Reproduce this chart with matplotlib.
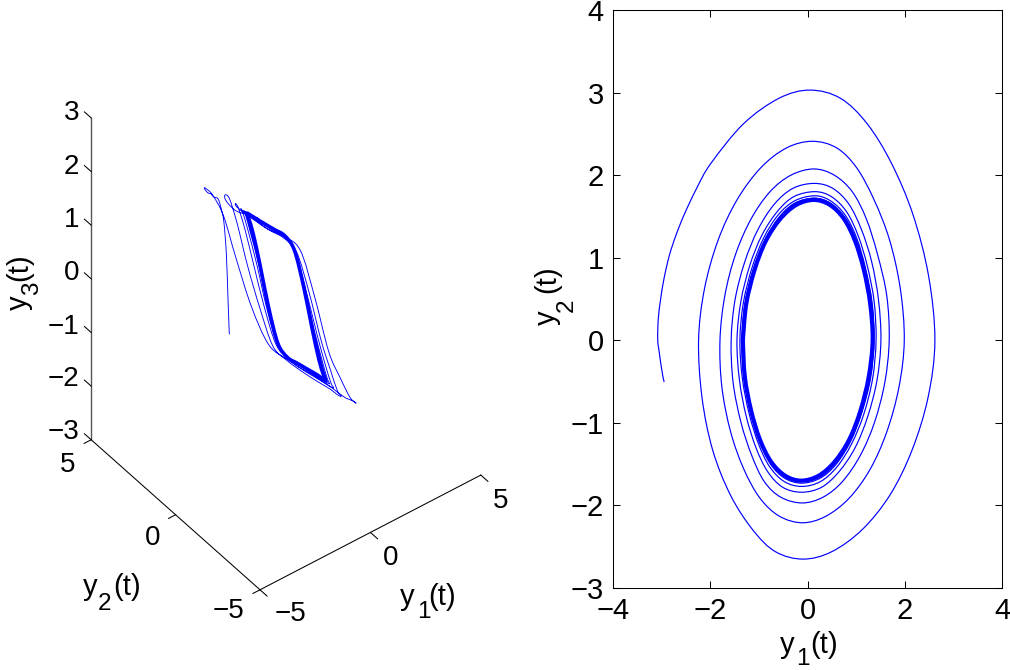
import matplotlib
matplotlib.use("Agg")
import matplotlib.pyplot as plt
from matplotlib.path import Path
from matplotlib.patches import PathPatch
from mpl_toolkits.mplot3d import proj3d

plt.rcParams['font.family'] = ['Liberation Sans', 'DejaVu Sans']
plt.rcParams['axes.unicode_minus'] = True

# transient at the start of the trajectory
y1_start = [-2.95, -2.97, -2.99, -3.02, -3.05]
y2_start = [-0.50, -0.45, -0.38, -0.27, -0.14]
y3_start = [0.07, 0.70, 1.52, 2.11, 2.34]

# successive turns of the spiral
y1_turn1 = [-3.08,-3.07,-3.02,-2.95,-2.84,-2.70,-2.53,-2.28,-1.99,-1.32,-.59,.05,.68,1.23,1.73,2.17,2.49,2.62,2.48,2.15,1.70,1.13,.50,-.09,-.66,-1.12,-1.58,-1.95,-2.17]
y2_turn1 = [0,.25,.50,.75,1.03,1.28,1.53,1.84,2.14,2.62,2.93,3.03,2.93,2.62,2.14,1.52,.78,0,-.69,-1.33,-1.87,-2.29,-2.56,-2.65,-2.56,-2.30,-1.88,-1.33,-.69]
y3_turn1 = [2.48,2.44,2.42,2.35,2.29,2.22,2.13,2.00,1.84,1.44,.81,-.14,-1.16,-1.90,-2.15,-2.32,-2.40,-2.43,-2.28,-2.07,-1.82,-1.47,-.91,-.27,.85,1.75,1.99,2.07,2.16]

y1_turn2 = [-2.24,-2.12,-1.84,-1.45,-.96,-.43,.10,.60,1.01,1.37,1.69,1.91,1.99,1.88,1.63,1.29,.86,.38,-.10,-.58,-.98,-1.31,-1.58,-1.76]
y2_turn2 = [0,.62,1.21,1.70,2.09,2.33,2.41,2.33,2.09,1.70,1.21,.62,0,-.57,-1.11,-1.56,-1.91,-2.13,-2.21,-2.13,-1.91,-1.56,-1.11,-.57]
y3_turn2 = [2.07,2.00,1.88,1.73,1.44,.80,-.12,-1.00,-1.73,-1.97,-2.11,-2.17,-2.15,-2.07,-1.90,-1.68,-1.40,-.85,-.18,.79,1.57,1.81,1.88,1.93]

y1_turn3 = [-1.80,-1.70,-1.48,-1.16,-.77,-.34,.13,.55,.92,1.21,1.44,1.63,1.68,1.59,1.38,1.09,.72,.32,-.11,-.55,-.89,-1.15,-1.37,-1.53]
y2_turn3 = [0,.54,1.04,1.47,1.80,2.00,2.075,2.00,1.80,1.47,1.04,.54,0,-.51,-.99,-1.39,-1.71,-1.90,-1.97,-1.90,-1.71,-1.39,-.99,-.51]
y3_turn3 = [1.91,1.84,1.72,1.57,1.30,.78,-.03,-.88,-1.59,-1.83,-1.93,-1.96,-1.95,-1.87,-1.72,-1.54,-1.28,-.80,-.12,.77,1.51,1.75,1.81,1.84]

y1_turn4 = [-1.57,-1.49,-1.29,-1.02,-.68,-.30,.14,.52,.85,1.11,1.32,1.46,1.51,1.43,1.24,.98,.65,.29,-.12,-.51,-.82,-1.06,-1.26,-1.40]
y2_turn4 = [0,.49,.95,1.34,1.65,1.84,1.90,1.84,1.65,1.34,.95,.49,0,-.48,-.92,-1.30,-1.59,-1.78,-1.84,-1.78,-1.59,-1.30,-.92,-.48]
y3_turn4 = [1.82,1.75,1.63,1.48,1.23,.76,.02,-.82,-1.51,-1.75,-1.83,-1.86,-1.84,-1.77,-1.63,-1.47,-1.22,-.78,-.10,.76,1.48,1.72,1.77,1.80]

y1_turn5 = [-1.45,-1.37,-1.19,-.94,-.62,-.28,.15,.49,.80,1.04,1.23,1.37,1.41,1.34,1.16,.91,.61,.27,-.12,-.48,-.78,-1.01,-1.20,-1.34]
y2_turn5 = [0,.47,.90,1.27,1.56,1.74,1.80,1.74,1.56,1.27,.90,.47,0,-.46,-.89,-1.25,-1.53,-1.71,-1.77,-1.71,-1.53,-1.25,-.89,-.46]
y3_turn5 = [1.78,1.71,1.59,1.44,1.19,.76,.04,-.79,-1.48,-1.72,-1.78,-1.81,-1.79,-1.72,-1.59,-1.43,-1.19,-.76,-.09,.76,1.46,1.70,1.75,1.78]

y1_turn6 = [-1.39,-1.32,-1.14,-.90,-.60,-.26,.15,.47,.77,1.01,1.19,1.33,1.37,1.30,1.12,.89,.59,.26,-.12,-.47,-.76,-.99,-1.17,-1.30]
y2_turn6 = [0,.45,.88,1.24,1.52,1.69,1.75,1.69,1.52,1.24,.88,.45,0,-.45,-.87,-1.22,-1.50,-1.67,-1.73,-1.67,-1.50,-1.22,-.87,-.45]
y3_turn6 = [1.76,1.69,1.57,1.42,1.17,.75,.06,-.77,-1.46,-1.70,-1.75,-1.78,-1.76,-1.69,-1.56,-1.41,-1.17,-.75,-.08,.75,1.45,1.69,1.74,1.76]

y1_turn7 = [-1.35,-1.28,-1.11,-.87,-.58,-.26,.14,.47,.76,.99,1.18,1.31,1.35,1.28,1.11,.87,.58,.26,-.12,-.46,-.75,-.98,-1.16,-1.29]
y2_turn7 = [0,.45,.86,1.22,1.49,1.66,1.72,1.66,1.49,1.22,.86,.45,0,-.44,-.86,-1.21,-1.48,-1.65,-1.71,-1.65,-1.48,-1.21,-.86,-.44]
y3_turn7 = [1.74,1.67,1.55,1.40,1.16,.75,.07,-.75,-1.44,-1.68,-1.74,-1.76,-1.74,-1.67,-1.55,-1.39,-1.15,-.75,-.07,.75,1.44,1.68,1.73,1.75]

# the settled cycle (dense band of overlapping turns)
y1_cycle = [-1.33,-1.26,-1.09,-.86,-.56,-.23,.13,.46,.75,.98,1.16,1.29,1.34,1.26,1.09,.86,.56,.23,-.13,-.46,-.75,-.98,-1.16,-1.29,-1.33]
y2_cycle = [0,.44,.85,1.20,1.47,1.64,1.70,1.64,1.47,1.20,.85,.44,0,-.44,-.85,-1.20,-1.47,-1.64,-1.70,-1.64,-1.47,-1.20,-.85,-.44,0]
y3_cycle = [1.73,1.66,1.545,1.386,1.153,.755,.07,-.75,-1.44,-1.68,-1.73,-1.75,-1.73,-1.66,-1.545,-1.386,-1.153,-.755,-.07,.75,1.44,1.68,1.73,1.75,1.73]

y1_spiral = y1_start + y1_turn1 + y1_turn2 + y1_turn3 + y1_turn4 + y1_turn5 + y1_turn6 + y1_turn7 + y1_cycle
y2_spiral = y2_start + y2_turn1 + y2_turn2 + y2_turn3 + y2_turn4 + y2_turn5 + y2_turn6 + y2_turn7 + y2_cycle
y3_spiral = y3_start + y3_turn1 + y3_turn2 + y3_turn3 + y3_turn4 + y3_turn5 + y3_turn6 + y3_turn7 + y3_cycle

xy_ticks3d = [-5, 0, 5]
z_ticks3d = [-3, -2, -1, 0, 1, 2, 3]
x_ticks2d = [-4, -2, 0, 2, 4]
y_ticks2d = [-3, -2, -1, 0, 1, 2, 3, 4]

BLUE = '#0000ff'
FS_L = 20
FS_R = 21
FS_SUB = 17.5
W, H = 1010, 670


def smooth_path(xs, ys):
    """Bezier path passing through every given point."""
    n = len(xs)
    verts = [(xs[0], ys[0])]
    codes = [Path.MOVETO]
    for i in range(n - 1):
        a, b = max(i - 1, 0), min(i + 2, n - 1)
        verts.append((xs[i] + (xs[i + 1] - xs[a]) / 6, ys[i] + (ys[i + 1] - ys[a]) / 6))
        verts.append((xs[i + 1] - (xs[b] - xs[i]) / 6, ys[i + 1] - (ys[b] - ys[i]) / 6))
        verts.append((xs[i + 1], ys[i + 1]))
        codes += [Path.CURVE4] * 3
    return Path(verts, codes)


def ftext(px, py, s, fs=FS_L, **kw):
    kw.setdefault('ha', 'center')
    kw.setdefault('va', 'center')
    fig.text(px / W, 1 - py / H, s, fontsize=fs, **kw)


def minus(v):
    return str(v).replace('-', '\u2212')


def hlabel(px_y, px_sub, px_par, base, base_sub, sub):
    ftext(px_y, base, 'y', FS_R, ha='left', va='baseline')
    ftext(px_sub, base_sub, sub, FS_SUB, ha='left', va='baseline')
    ftext(px_par, base, '(t)', FS_R, ha='left', va='baseline')


def vlabel(py_y, py_sub, py_par, base, base_sub, sub):
    kw = dict(ha='left', va='baseline', rotation=90, rotation_mode='anchor')
    ftext(base, py_y, 'y', FS_R, **kw)
    ftext(base_sub, py_sub, sub, FS_SUB, **kw)
    ftext(base, py_par, '(t)', FS_R, **kw)


fig = plt.figure(figsize=(W / 100, H / 100), dpi=100)

# ---------- left: 3-D view ----------
S = 600
cx, cy = 286, 670 - 296.5
ax3 = fig.add_axes([(cx - .5135 * S) / W, (cy - .5135 * S) / H, S / W, S / H],
                   projection='3d', proj_type='ortho')
ax3.set_box_aspect((1, 1, 1.578), zoom=.953)
ax3.view_init(elev=42.8, azim=-127.4)
ax3.set_xlim(-5, 5)
ax3.set_ylim(-5, 5)
ax3.set_zlim(-3, 3)
ax3.set_axis_off()
ax3.patch.set_alpha(0)

frame = dict(color='black', lw=0.75, clip_on=False)
ax3.plot([-5, 5], [-5, -5], [-3, -3], **frame)
ax3.plot([-5, -5], [-5, 5], [-3, -3], **frame)
ax3.plot([-5, -5], [5, 5], [-3, 3], color='#555555', lw=1.0, clip_on=False)
for v in xy_ticks3d:
    ax3.plot([v, v], [-5, -5.42], [-3, -3], **frame)
    ax3.plot([-5, -5.32], [v, v], [-3, -3], **frame)
for v in z_ticks3d:
    ax3.plot([-5, -5], [5, 5.4], [v, v], **frame)

M = ax3.get_proj()


def curve3d(a, b, c, lw):
    px, py, _ = proj3d.proj_transform(a, b, c, M)
    fig.add_artist(PathPatch(smooth_path(list(px), list(py)), fc='none', ec=BLUE,
                             lw=lw, transform=ax3.transData, capstyle='round'))


curve3d(y1_spiral, y2_spiral, y3_spiral, 0.65)
curve3d(y1_turn7 + y1_cycle, y2_turn7 + y2_cycle, y3_turn7 + y3_cycle, 0.65)
curve3d(y1_cycle, y2_cycle, y3_cycle, 2.6)

# 3-D tick labels and axis names
for v, py in zip(z_ticks3d, [432, 379, 327, 273, 220, 167, 113]):
    ftext(79, py, minus(v), ha='right')
for v, (px, py) in zip(xy_ticks3d, [(228, 611), (153, 538), (68, 465)]):
    ftext(px, py, minus(v))
for v, (px, py) in zip(xy_ticks3d, [(291, 614), (391, 558), (501, 501)]):
    ftext(px, py, minus(v))
hlabel(400, 417, 428, 605, 618, '1')
hlabel(83, 98, 113, 595, 610, '2')
vlabel(310, 295, 281, 27, 38, '3')

# ---------- right: phase plane ----------
ax2 = fig.add_axes([613 / W, (H - 588) / H, 389 / W, 578 / H])


def curve2d(a, b, lw):
    ax2.add_patch(PathPatch(smooth_path(a, b), fc='none', ec=BLUE, lw=lw, capstyle='round'))


curve2d(y1_spiral, y2_spiral, 0.85)
curve2d(y1_turn7 + y1_cycle, y2_turn7 + y2_cycle, 0.85)
curve2d(y1_cycle, y2_cycle, 3.0)
ax2.set_xlim(-4, 4)
ax2.set_ylim(-3, 4)
ax2.set_xticks(x_ticks2d)
ax2.set_yticks(y_ticks2d)
ax2.tick_params(direction='in', top=True, right=True, length=5, width=0.75,
                labelsize=FS_R, pad=6.5)
for sp in ax2.spines.values():
    sp.set_linewidth(0.75)
hlabel(780, 796, 810, 653, 665, '1')
vlabel(325, 312, 293, 555, 573, '2')

fig.savefig('out.png', dpi=100)
